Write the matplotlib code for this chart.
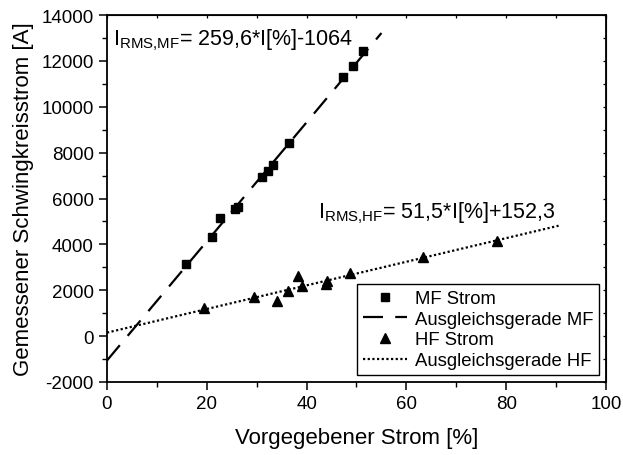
import matplotlib
matplotlib.use("Agg")
import matplotlib.pyplot as plt
import numpy as np

plt.rcParams['font.family'] = ['Liberation Sans', 'DejaVu Sans']
plt.rcParams['mathtext.fontset'] = 'custom'
plt.rcParams['mathtext.rm'] = 'Liberation Sans'
plt.rcParams['mathtext.it'] = 'Liberation Sans'
plt.rcParams['axes.unicode_minus'] = False

# Measured MF current (set current in %, measured resonant circuit current in A)
mf_x = [15.8, 21.0, 22.6, 25.7, 26.2, 31.1, 32.2, 33.3, 36.5, 47.2, 49.4, 51.4]
mf_y = [3146, 4340, 5165, 5543, 5617, 6950, 7214, 7474, 8407, 11284, 11790, 12418]

# Measured HF current
hf_x = [19.5, 29.5, 34.0, 36.2, 38.3, 39.1, 43.9, 44.0, 48.8, 63.3, 78.1]
hf_y = [1214, 1692, 1518, 1968, 2608, 2172, 2275, 2418, 2740, 3450, 4161]

# Linear fits
mf_slope, mf_offset = 259.6, -1064
hf_slope, hf_offset = 51.5, 152.3
mf_fit_range = [0, 55]
hf_fit_range = [0, 90.5]

fig = plt.figure(figsize=(6.23, 4.56), dpi=100)
ax = fig.add_axes([0.1717, 0.1601, 0.801, 0.8048])

ax.plot(mf_x, mf_y, ls='none', marker='s', ms=5.5, color='black', label='MF Strom')
xm = np.array(mf_fit_range)
ax.plot(xm, mf_slope * xm + mf_offset, color='black', lw=1.6,
        ls=(0, (9, 5.5)), label='Ausgleichsgerade MF')
ax.plot(hf_x, hf_y, ls='none', marker='^', ms=7.5, color='black', label='HF Strom')
xh = np.array(hf_fit_range)
ax.plot(xh, hf_slope * xh + hf_offset, color='black', lw=1.6,
        ls=(0, (1, 1.1)), label='Ausgleichsgerade HF')

ax.set_xlim(0, 100)
ax.set_ylim(-2000, 14000)
xticks = [0, 20, 40, 60, 80, 100]
yticks = np.arange(-2000, 14001, 2000)
xminor = np.arange(10, 100, 20)
yminor = np.arange(-1000, 14000, 2000)
ax.set_xticks(xticks)
ax.set_yticks(yticks)
ax.set_xticks(xminor, minor=True)
ax.set_yticks(yminor, minor=True)

for sp in ax.spines.values():
    sp.set_linewidth(1.3)
ax.tick_params(which='major', direction='out', length=6, width=1.1, labelsize=13.5)
ax.tick_params(which='minor', direction='out', length=3.5, width=1.0)

# short inward ticks on the top and right frame
top = ax.secondary_xaxis('top')
top.set_xticks(list(xticks) + list(xminor))
top.tick_params(direction='in', length=2.5, width=0.9, labeltop=False)
right = ax.secondary_yaxis('right')
right.set_yticks(list(yticks) + list(yminor))
right.tick_params(direction='in', length=2.5, width=0.9, labelright=False)

ax.set_xlabel('Vorgegebener Strom [%]', fontsize=16, labelpad=11)
ax.set_ylabel('Gemessener Schwingkreisstrom [A]', fontsize=16, labelpad=5)

ax.text(1.2, 12740, r'$\mathrm{I_{RMS{,}MF}}$= 259,6*I[%]-1064', fontsize=15.5)
ax.text(42.3, 5190, r'$\mathrm{I_{RMS{,}HF}}$= 51,5*I[%]+152,3', fontsize=15.5)

leg = ax.legend(loc='lower right', fontsize=13.3, frameon=True, fancybox=False,
                edgecolor='black', framealpha=1, borderpad=0.3, labelspacing=0.2,
                handlelength=2.4, handletextpad=0.4, borderaxespad=0.4)
leg.get_frame().set_linewidth(1.0)

fig.savefig('out.png', dpi=100)
